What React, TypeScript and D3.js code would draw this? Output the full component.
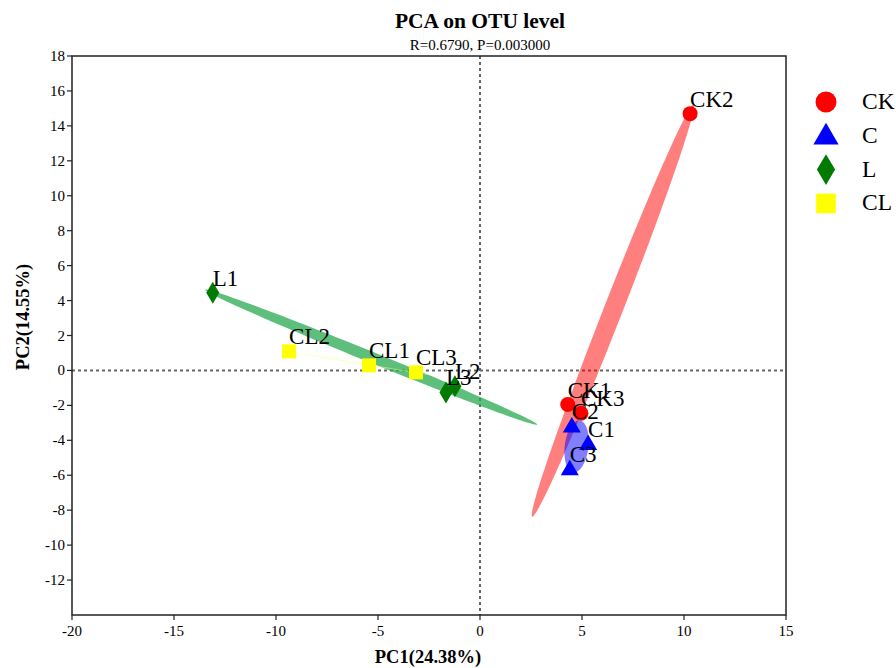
import React from "react";
import * as d3 from "d3";

const groups = ["CK", "C", "L", "CL"];
const groupColors = ["#ff0000", "#0000ff", "#007a00", "#ffff00"];
const ellipseColors = ["rgba(255,0,0,0.5)", "rgba(0,0,255,0.5)", "rgba(40,170,80,0.75)", "rgba(255,255,120,0.5)"];
const sampleNames = ["CK1", "CK2", "CK3", "C1", "C2", "C3", "L1", "L2", "L3", "CL1", "CL2", "CL3"];
const sampleGroups = ["CK", "CK", "CK", "C", "C", "C", "L", "L", "L", "CL", "CL", "CL"];
const pc1 = [4.3, 10.3, 4.95, 5.3, 4.5, 4.4, -13.1, -1.23, -1.67, -5.44, -9.36, -3.14];
const pc2 = [-1.95, 14.7, -2.45, -4.2, -3.2, -5.65, 4.45, -0.91, -1.26, 0.29, 1.09, -0.11];
const xTicks = [-20, -15, -10, -5, 0, 5, 10, 15];
const yTicks = [18, 16, 14, 12, 10, 8, 6, 4, 2, 0, -2, -4, -6, -8, -10, -12];
const ellipseScale = 1.21;

const W = 896, H = 668;
const M = { left: 72, right: 786, top: 56, bottom: 615 };

function Marker({ group, x, y, s }: { group: string; x: number; y: number; s: number }) {
  const color = groupColors[groups.indexOf(group)];
  if (group === "L") {
    const w = 6.5 * s, h = 11 * s;
    return <path d={`M${x},${y - h}L${x + w},${y}L${x},${y + h}L${x - w},${y}Z`} fill={color} />;
  }
  if (group === "C") {
    const w = 9 * s, h = 15.5 * s;
    return <path d={`M${x},${y - h * 0.6}L${x + w},${y + h * 0.4}L${x - w},${y + h * 0.4}Z`} fill={color} />;
  }
  if (group === "CL") {
    const a = 7 * s;
    return <rect x={x - a} y={y - a} width={2 * a} height={2 * a} fill={color} />;
  }
  return <circle cx={x} cy={y} r={7.5 * s} fill={color} />;
}

export default function App() {
  const x = d3.scaleLinear().domain([-20, 15]).range([M.left, M.right]);
  const y = d3.scaleLinear().domain([-14, 18]).range([M.bottom, M.top]);

  const ellipses = groups.map((g, gi) => {
    const idx = sampleGroups.map((s, i) => (s === g ? i : -1)).filter((i) => i >= 0);
    const xs = idx.map((i) => pc1[i]);
    const ys = idx.map((i) => pc2[i]);
    const mx = d3.mean(xs)!, my = d3.mean(ys)!;
    const n = xs.length;
    let sxx = 0, syy = 0, sxy = 0;
    for (let k = 0; k < n; k++) {
      sxx += (xs[k] - mx) ** 2;
      syy += (ys[k] - my) ** 2;
      sxy += (xs[k] - mx) * (ys[k] - my);
    }
    sxx /= n - 1; syy /= n - 1; sxy /= n - 1;
    const tr = sxx + syy, det = sxx * syy - sxy * sxy;
    const disc = Math.sqrt(Math.max(0, tr * tr / 4 - det));
    const l1 = tr / 2 + disc, l2 = Math.max(tr / 2 - disc, 0);
    const theta = Math.atan2(l1 - sxx, sxy || 1e-9);
    const a = Math.sqrt(l1) * ellipseScale, b = Math.sqrt(l2) * ellipseScale;
    const pts: [number, number][] = d3.range(0, 361, 3).map((deg) => {
      const t = (deg * Math.PI) / 180;
      const ex = a * Math.cos(t), ey = b * Math.sin(t);
      const dx = ex * Math.cos(theta) - ey * Math.sin(theta);
      const dy = ex * Math.sin(theta) + ey * Math.cos(theta);
      return [x(mx + dx), y(my + dy)];
    });
    return { d: d3.line()(pts) as string, color: ellipseColors[gi] };
  });

  const font = "'Liberation Serif', 'Times New Roman', serif";

  return (
    <svg width={W} height={H} style={{ position: "absolute", left: 0, top: 0, background: "#fff" }} fontFamily={font}>
      <text x={480} y={28} textAnchor="middle" fontSize={21.5} fontWeight="bold">PCA on OTU level</text>
      <text x={480} y={50} textAnchor="middle" fontSize={15}>R=0.6790, P=0.003000</text>

      <line x1={x(0)} x2={x(0)} y1={M.top} y2={M.bottom} stroke="#666" strokeWidth={2} strokeDasharray="3,3" />
      <line x1={M.left} x2={M.right} y1={y(0)} y2={y(0)} stroke="#666" strokeWidth={2} strokeDasharray="3,3" />

      {ellipses.map((e, i) => (
        <path key={i} d={e.d} fill={e.color} stroke="none" />
      ))}

      {sampleNames.map((n, i) => (
        <Marker key={n} group={sampleGroups[i]} x={x(pc1[i])} y={y(pc2[i])} s={1} />
      ))}
      {sampleNames.map((n, i) => (
        <text key={n} x={x(pc1[i])} y={y(pc2[i]) - 7} fontSize={23}>{n}</text>
      ))}

      <rect x={M.left} y={M.top} width={M.right - M.left} height={M.bottom - M.top} fill="none" stroke="#222" strokeWidth={1.5} />

      {xTicks.map((t) => (
        <g key={t}>
          <line x1={x(t)} x2={x(t)} y1={M.bottom} y2={M.bottom + 5} stroke="#222" strokeWidth={1.2} />
          <text x={x(t)} y={M.bottom + 21} textAnchor="middle" fontSize={15}>{t}</text>
        </g>
      ))}
      {yTicks.map((t) => (
        <g key={t}>
          <line x1={M.left - 5} x2={M.left} y1={y(t)} y2={y(t)} stroke="#222" strokeWidth={1.2} />
          <text x={M.left - 7} y={y(t) + 5} textAnchor="end" fontSize={15}>{t}</text>
        </g>
      ))}

      <text x={428} y={663} textAnchor="middle" fontSize={18.5} fontWeight="bold">PC1(24.38%)</text>
      <text transform="translate(29,317) rotate(-90)" textAnchor="middle" fontSize={18.5} fontWeight="bold">PC2(14.55%)</text>

      {groups.map((g, i) => (
        <g key={g}>
          <Marker group={g} x={826} y={102 + i * 33.8} s={1.4} />
          <text x={862} y={109 + i * 33.8} fontSize={23.5}>{g}</text>
        </g>
      ))}
    </svg>
  );
}
